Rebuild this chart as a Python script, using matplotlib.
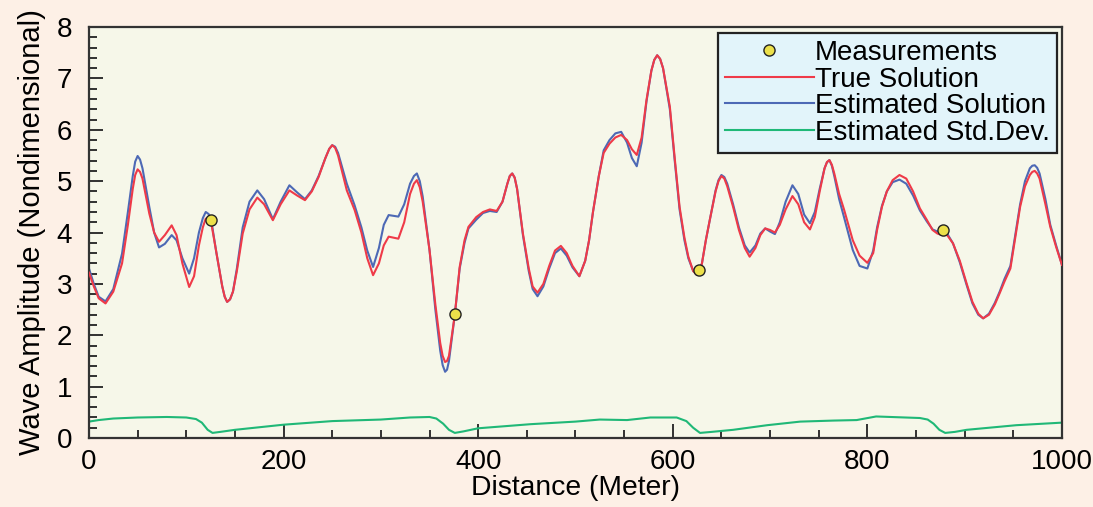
import matplotlib
matplotlib.use('Agg')
import matplotlib.pyplot as plt
from matplotlib.ticker import MultipleLocator

plt.rcParams['font.family'] = ['Liberation Sans', 'DejaVu Sans']

# distance along the line (meter)
distance = [0, 5, 10, 17, 25, 34, 40, 45, 47.5, 50,
            52.5, 55, 62, 67, 72, 78, 85, 90, 96, 103,
            108, 113, 117, 120, 123, 126, 131, 137, 139.5, 142,
            145, 148, 152, 158, 165, 173, 180, 189, 197, 206,
            214, 222, 229, 236, 243, 247, 250, 253, 256, 265,
            273, 280, 286, 292, 298, 303, 308, 318, 324, 330,
            334, 337, 340, 343, 350, 356, 361, 363.5, 366, 368,
            370, 376, 381, 386, 390, 398, 405, 412, 419, 425,
            430, 432.5, 435, 437.5, 440, 446, 452, 456, 461, 467,
            473, 479, 485, 491, 497, 504, 510, 514, 518, 524,
            529, 535, 541, 547, 553, 558, 563, 568, 573, 578,
            581, 584, 587, 590, 597, 602, 607, 612, 616, 621,
            625, 627.5, 630, 634, 638, 644, 647, 650, 653, 656,
            662, 668, 674, 679, 685, 690, 695, 700, 705, 710,
            716, 723, 729, 735, 741, 746, 751, 756, 758.5, 761,
            763.5, 766, 771, 776, 785, 792, 800, 806, 810, 815,
            820, 826, 833, 840, 847, 854, 861, 867, 872, 877,
            882, 888, 895, 902, 908, 914, 919, 925, 931, 936,
            941, 947, 952, 957, 962, 967, 969.5, 972, 974.5, 977,
            983, 988, 994, 1000]

true_solution = [3.22, 2.95, 2.72, 2.62, 2.85, 3.40, 4.15, 4.85, 5.12, 5.23,
                 5.18, 5.05, 4.37, 4.00, 3.82, 3.95, 4.14, 3.95, 3.40, 2.94,
                 3.15, 3.75, 4.10, 4.27, 4.27, 4.15, 3.60, 2.95, 2.75, 2.65,
                 2.70, 2.85, 3.25, 3.98, 4.45, 4.68, 4.55, 4.24, 4.55, 4.82,
                 4.72, 4.63, 4.80, 5.08, 5.45, 5.63, 5.70, 5.65, 5.50, 4.82,
                 4.44, 4.00, 3.50, 3.17, 3.40, 3.75, 3.92, 3.88, 4.20, 4.75,
                 4.95, 5.02, 4.88, 4.60, 3.66, 2.60, 1.85, 1.60, 1.48, 1.50,
                 1.60, 2.40, 3.33, 3.85, 4.11, 4.30, 4.40, 4.45, 4.42, 4.60,
                 4.95, 5.10, 5.15, 5.07, 4.85, 3.98, 3.30, 2.95, 2.83, 3.00,
                 3.35, 3.65, 3.74, 3.60, 3.35, 3.15, 3.45, 3.85, 4.40, 5.10,
                 5.55, 5.73, 5.85, 5.90, 5.80, 5.62, 5.51, 5.85, 6.58, 7.15,
                 7.36, 7.45, 7.38, 7.20, 6.45, 5.45, 4.50, 3.90, 3.53, 3.25,
                 3.17, 3.24, 3.40, 3.85, 4.24, 4.80, 5.00, 5.10, 5.05, 4.90,
                 4.50, 4.05, 3.70, 3.53, 3.70, 3.95, 4.08, 4.05, 4.00, 4.15,
                 4.45, 4.71, 4.55, 4.20, 4.06, 4.30, 4.80, 5.25, 5.37, 5.41,
                 5.32, 5.15, 4.75, 4.45, 3.85, 3.55, 3.41, 3.60, 4.05, 4.50,
                 4.80, 5.02, 5.12, 5.05, 4.80, 4.47, 4.25, 4.05, 3.98, 3.95,
                 3.95, 3.79, 3.45, 3.01, 2.65, 2.42, 2.33, 2.40, 2.60, 2.82,
                 3.05, 3.30, 3.90, 4.50, 4.90, 5.12, 5.18, 5.20, 5.15, 5.05,
                 4.55, 4.11, 3.72, 3.37]

estimated_solution = [3.30, 3.00, 2.75, 2.66, 2.90, 3.59, 4.40, 5.10, 5.38, 5.49,
                      5.42, 5.25, 4.50, 4.00, 3.71, 3.78, 3.95, 3.85, 3.50, 3.20,
                      3.50, 4.00, 4.28, 4.40, 4.36, 4.20, 3.60, 2.95, 2.75, 2.65,
                      2.70, 2.85, 3.30, 4.10, 4.60, 4.82, 4.65, 4.26, 4.60, 4.92,
                      4.78, 4.65, 4.82, 5.10, 5.45, 5.63, 5.70, 5.67, 5.55, 4.95,
                      4.53, 4.10, 3.65, 3.33, 3.70, 4.15, 4.34, 4.31, 4.55, 4.95,
                      5.10, 5.15, 5.00, 4.70, 3.66, 2.50, 1.70, 1.42, 1.29, 1.33,
                      1.50, 2.40, 3.30, 3.80, 4.08, 4.25, 4.38, 4.42, 4.40, 4.60,
                      4.95, 5.10, 5.15, 5.07, 4.85, 3.95, 3.25, 2.90, 2.76, 2.95,
                      3.30, 3.60, 3.69, 3.55, 3.32, 3.15, 3.45, 3.85, 4.40, 5.10,
                      5.60, 5.80, 5.93, 5.96, 5.75, 5.45, 5.29, 5.75, 6.55, 7.15,
                      7.36, 7.45, 7.38, 7.20, 6.40, 5.40, 4.45, 3.85, 3.50, 3.25,
                      3.20, 3.27, 3.40, 3.85, 4.24, 4.82, 5.02, 5.12, 5.08, 4.95,
                      4.55, 4.10, 3.75, 3.61, 3.75, 3.98, 4.08, 4.02, 3.97, 4.20,
                      4.60, 4.92, 4.75, 4.35, 4.18, 4.40, 4.85, 5.25, 5.37, 5.41,
                      5.30, 5.10, 4.65, 4.30, 3.66, 3.35, 3.30, 3.65, 4.10, 4.52,
                      4.80, 4.98, 5.03, 4.95, 4.72, 4.43, 4.22, 4.06, 4.02, 4.03,
                      3.98, 3.79, 3.42, 2.98, 2.62, 2.40, 2.33, 2.42, 2.63, 2.85,
                      3.10, 3.35, 3.95, 4.55, 5.00, 5.25, 5.30, 5.31, 5.26, 5.15,
                      4.65, 4.15, 3.75, 3.37]

# estimated standard deviation
std_distance = [0, 10, 25, 50, 80, 100, 110, 116, 122, 127, 135, 150, 200, 250, 300, 330, 350, 357, 364, 370,
                376, 385, 400, 454, 500, 525, 553, 577, 604, 614, 621, 628, 640, 662, 697, 731, 765, 789, 809, 854,
                862, 868, 874, 880, 890, 902, 953, 1000]
std_dev = [0.32, 0.35, 0.38, 0.40, 0.41, 0.40, 0.37, 0.30, 0.16, 0.10, 0.12, 0.16, 0.26, 0.33, 0.36, 0.40, 0.41, 0.38, 0.28, 0.16,
           0.10, 0.13, 0.19, 0.27, 0.32, 0.36, 0.35, 0.40, 0.40, 0.33, 0.20, 0.10, 0.12, 0.16, 0.25, 0.32, 0.34, 0.35, 0.42, 0.39,
           0.36, 0.28, 0.16, 0.10, 0.12, 0.16, 0.25, 0.30]

meas_distance = [125.7, 376, 627, 878]
meas_value = [4.25, 2.41, 3.28, 4.05]

fig = plt.figure(figsize=(10.93, 5.07), dpi=100, facecolor='#fdf0e6')
ax = fig.add_axes([0.0814, 0.136, 0.8902, 0.8107])
ax.set_facecolor('#f6f7e9')

ax.plot(meas_distance, meas_value, 'o', color='#ece04a', markeredgecolor='#222222',
        markeredgewidth=1.0, markersize=8, label='Measurements', zorder=5)
ax.plot(distance, true_solution, color='#ef3a48', lw=1.5, solid_joinstyle='round',
        label='True Solution', zorder=3)
ax.plot(distance, estimated_solution, color='#4d69b5', lw=1.5, solid_joinstyle='round',
        label='Estimated Solution', zorder=2)
ax.plot(std_distance, std_dev, color='#1fb877', lw=1.5, solid_joinstyle='round',
        label='Estimated Std.Dev.', zorder=2)

ax.set_xlim(0, 1000)
ax.set_ylim(0, 8)
ax.xaxis.set_major_locator(MultipleLocator(200))
ax.xaxis.set_minor_locator(MultipleLocator(50))
ax.yaxis.set_major_locator(MultipleLocator(1))
ax.yaxis.set_minor_locator(MultipleLocator(0.2))
ax.tick_params(which='both', direction='in', top=False, right=False, color='#222222', width=1.3)
ax.tick_params(which='major', length=10, labelsize=20)
ax.tick_params(which='minor', length=6)
ax.tick_params(axis='x', pad=8)
ax.tick_params(axis='y', pad=12)
for s in ax.spines.values():
    s.set_color('#333333')
    s.set_linewidth(1.6)

ax.set_xlabel('Distance (Meter)', fontsize=20.3, labelpad=0)
ax.set_ylabel('Wave Amplitude (Nondimensional)', fontsize=21, labelpad=8)

leg = ax.legend(loc='upper right', bbox_to_anchor=(0.9949, 0.9854), fontsize=20, frameon=True,
                fancybox=False, facecolor='#e2f4fa', edgecolor='#222222', framealpha=1,
                handlelength=3.2, handletextpad=0.05, labelspacing=0.02, borderpad=0.25,
                borderaxespad=0, numpoints=1)
leg.get_frame().set_linewidth(1.6)

fig.savefig('out.png', dpi=100, facecolor=fig.get_facecolor())
